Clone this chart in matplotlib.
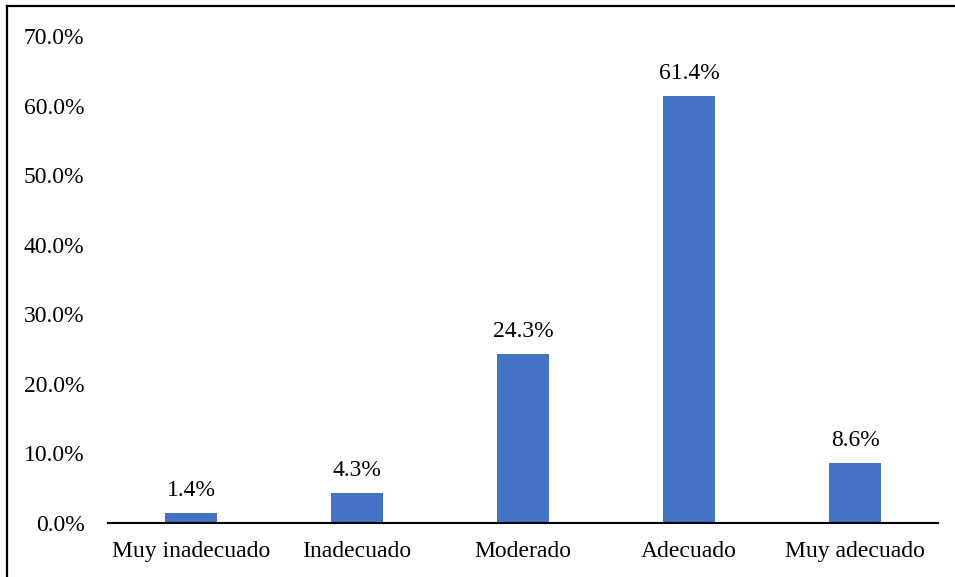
import matplotlib.pyplot as plt
from matplotlib.lines import Line2D

categories = ["Muy inadecuado", "Inadecuado", "Moderado", "Adecuado", "Muy adecuado"]
values = [1.4, 4.3, 24.3, 61.4, 8.6]
yticks = [0, 10, 20, 30, 40, 50, 60, 70]

plt.rcParams["font.family"] = ["Liberation Serif", "DejaVu Serif"]

W, H = 955, 577
fig = plt.figure(figsize=(W / 100, H / 100), dpi=100)
ax = fig.add_axes([108 / W, 1 - 523 / H, (938 - 108) / W, (523 - 36) / H])

x = range(len(categories))
ax.bar(x, values, width=0.31, color="#4472C4", zorder=2)
for xi, v in zip(x, values):
    ax.text(xi, v + 1.7, f"{v:.1f}%", ha="center", va="bottom", fontsize=17)

ax.set_xlim(-0.5, len(categories) - 0.5)
ax.set_ylim(0, 70)
ax.set_yticks(yticks)
ax.set_yticklabels([f"{t:.1f}%" for t in yticks], fontsize=17)
ax.set_xticks(list(x))
ax.set_xticklabels(categories, fontsize=17)
ax.tick_params(axis="both", length=0)
ax.tick_params(axis="y", pad=17)
ax.tick_params(axis="x", pad=13)

for s in ["top", "right", "left"]:
    ax.spines[s].set_visible(False)
ax.spines["bottom"].set_linewidth(1.5)
ax.spines["bottom"].set_zorder(3)

# outer frame (top and left edges visible)
fig.add_artist(Line2D([7 / W, 7 / W], [0, 1 - 6 / H], color="black", lw=1.6))
fig.add_artist(Line2D([7 / W, 1], [1 - 6 / H, 1 - 6 / H], color="black", lw=1.6))

fig.savefig("out.png", dpi=100)
